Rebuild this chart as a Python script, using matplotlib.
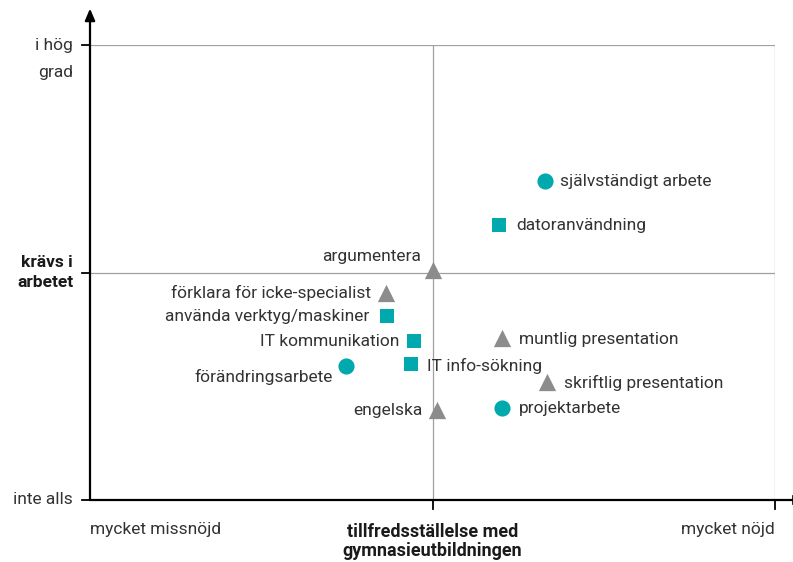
import matplotlib
matplotlib.use("Agg")
import matplotlib.pyplot as plt

plt.rcParams['font.family'] = ['Roboto', 'DejaVu Sans']

# ---- data ----
labels = ["självständigt arbete", "datoranvändning", "argumentera",
          "förklara för icke-specialist", "använda verktyg/maskiner",
          "IT kommunikation", "förändringsarbete", "IT info-sökning",
          "muntlig presentation", "skriftlig presentation", "projektarbete",
          "engelska"]
satisfaction = [0.664, 0.597, 0.501, 0.432, 0.434, 0.473, 0.374, 0.469,
                0.601, 0.667, 0.601, 0.507]
required = [0.701, 0.604, 0.505, 0.455, 0.404, 0.349, 0.295, 0.299,
            0.356, 0.259, 0.202, 0.198]
group = ["circle", "square", "triangle", "triangle", "square", "square",
         "circle", "square", "triangle", "triangle", "circle", "triangle"]

x_tick_labels = ["mycket missnöjd", "mycket nöjd"]
y_tick_labels = ["inte alls", "krävs i\narbetet", "i hög\ngrad"]
x_title = "tillfredsställelse med\ngymnasieutbildningen"

# ---- styles ----
TEAL = "#00A9AD"
GREY = "#8C8C8C"
TXT = "#333333"
style = {"circle": dict(marker="o", c=TEAL, s=135),
         "square": dict(marker="s", c=TEAL, s=105),
         "triangle": dict(marker="^", c=GREY, s=155)}
# label offsets in pixels (dx, dy, ha)
offsets = {"självständigt arbete": (15, 0, "left"),
           "datoranvändning": (17, 0, "left"),
           "argumentera": (-12, 14, "right"),
           "förklara för icke-specialist": (-15, 0, "right"),
           "använda verktyg/maskiner": (-18, 0, "right"),
           "IT kommunikation": (-15, 0, "right"),
           "förändringsarbete": (-13, -11, "right"),
           "IT info-sökning": (16, -2, "left"),
           "muntlig presentation": (17, -1, "left"),
           "skriftlig presentation": (17, -1, "left"),
           "projektarbete": (17, 0, "left"),
           "engelska": (-15, -1, "right")}

W, H = 793, 562
fig = plt.figure(figsize=(W / 100, H / 100), dpi=100)
ax = fig.add_axes([90 / W, (H - 500) / H, 685 / W, 455 / H])
ax.set_xlim(0, 1)
ax.set_ylim(0, 1)
for s in ax.spines.values():
    s.set_visible(False)
ax.set_xticks([])
ax.set_yticks([])

gcol = "#A0A0A0"
ax.plot([0.5, 0.5], [0, 1], color=gcol, lw=0.9, zorder=1)
ax.plot([1, 1], [0, 1], color=gcol, lw=0.9, zorder=1)
ax.plot([0, 1], [0.5, 0.5], color=gcol, lw=0.9, zorder=1)
ax.plot([0, 1], [1, 1], color=gcol, lw=0.9, zorder=1)

# main axes with arrows
ax.annotate("", xy=(0, 1.08), xytext=(0, 0), xycoords="data",
            arrowprops=dict(arrowstyle="-|>,head_length=0.7,head_width=0.3",
                            color="black", lw=1.6, shrinkA=0, shrinkB=0),
            annotation_clip=False, zorder=3)
ax.annotate("", xy=(1.045, 0), xytext=(0, 0), xycoords="data",
            arrowprops=dict(arrowstyle="-|>,head_length=0.7,head_width=0.3",
                            color="black", lw=1.6, shrinkA=0, shrinkB=0),
            annotation_clip=False, zorder=3)

# ticks
for yv in [0, 0.5, 1]:
    ax.plot([-0.012, 0], [yv, yv], color="black", lw=1.3, clip_on=False)
for xv in [0.5, 1]:
    ax.plot([xv, xv], [0, -0.02], color="black", lw=1.3, clip_on=False)

fs = 12.5
# y tick labels
ax.annotate(y_tick_labels[0], xy=(0, 0), xytext=(-17, 0), textcoords="offset pixels",
            ha="right", va="center", fontsize=fs, color=TXT, annotation_clip=False)
ax.annotate(y_tick_labels[1], xy=(0, 0.5), xytext=(-17, 0), textcoords="offset pixels",
            ha="right", va="center", fontsize=fs, color="#1a1a1a", fontweight="bold",
            annotation_clip=False, linespacing=1.4)
ax.annotate(y_tick_labels[2], xy=(0, 1), xytext=(-17, 7), textcoords="offset pixels",
            ha="right", va="top", fontsize=fs, color=TXT, annotation_clip=False,
            linespacing=2.0)
# x tick labels
ax.annotate(x_tick_labels[0], xy=(0, 0), xytext=(0, -22), textcoords="offset pixels",
            ha="left", va="top", fontsize=fs, color=TXT, annotation_clip=False)
ax.annotate(x_tick_labels[1], xy=(1, 0), xytext=(0, -22), textcoords="offset pixels",
            ha="right", va="top", fontsize=fs, color=TXT, annotation_clip=False)
ax.annotate(x_title, xy=(0.5, 0), xytext=(0, -23), textcoords="offset pixels",
            ha="center", va="top", fontsize=13, color="#1a1a1a", fontweight="bold",
            annotation_clip=False, linespacing=1.1)

for lab, xv, yv, g in zip(labels, satisfaction, required, group):
    ax.scatter([xv], [yv], zorder=4, linewidths=0, **style[g])
    dx, dy, ha = offsets[lab]
    ax.annotate(lab, xy=(xv, yv), xytext=(dx, dy), textcoords="offset pixels",
                ha=ha, va="center", fontsize=fs, color=TXT)

fig.savefig("out.png", dpi=100)
